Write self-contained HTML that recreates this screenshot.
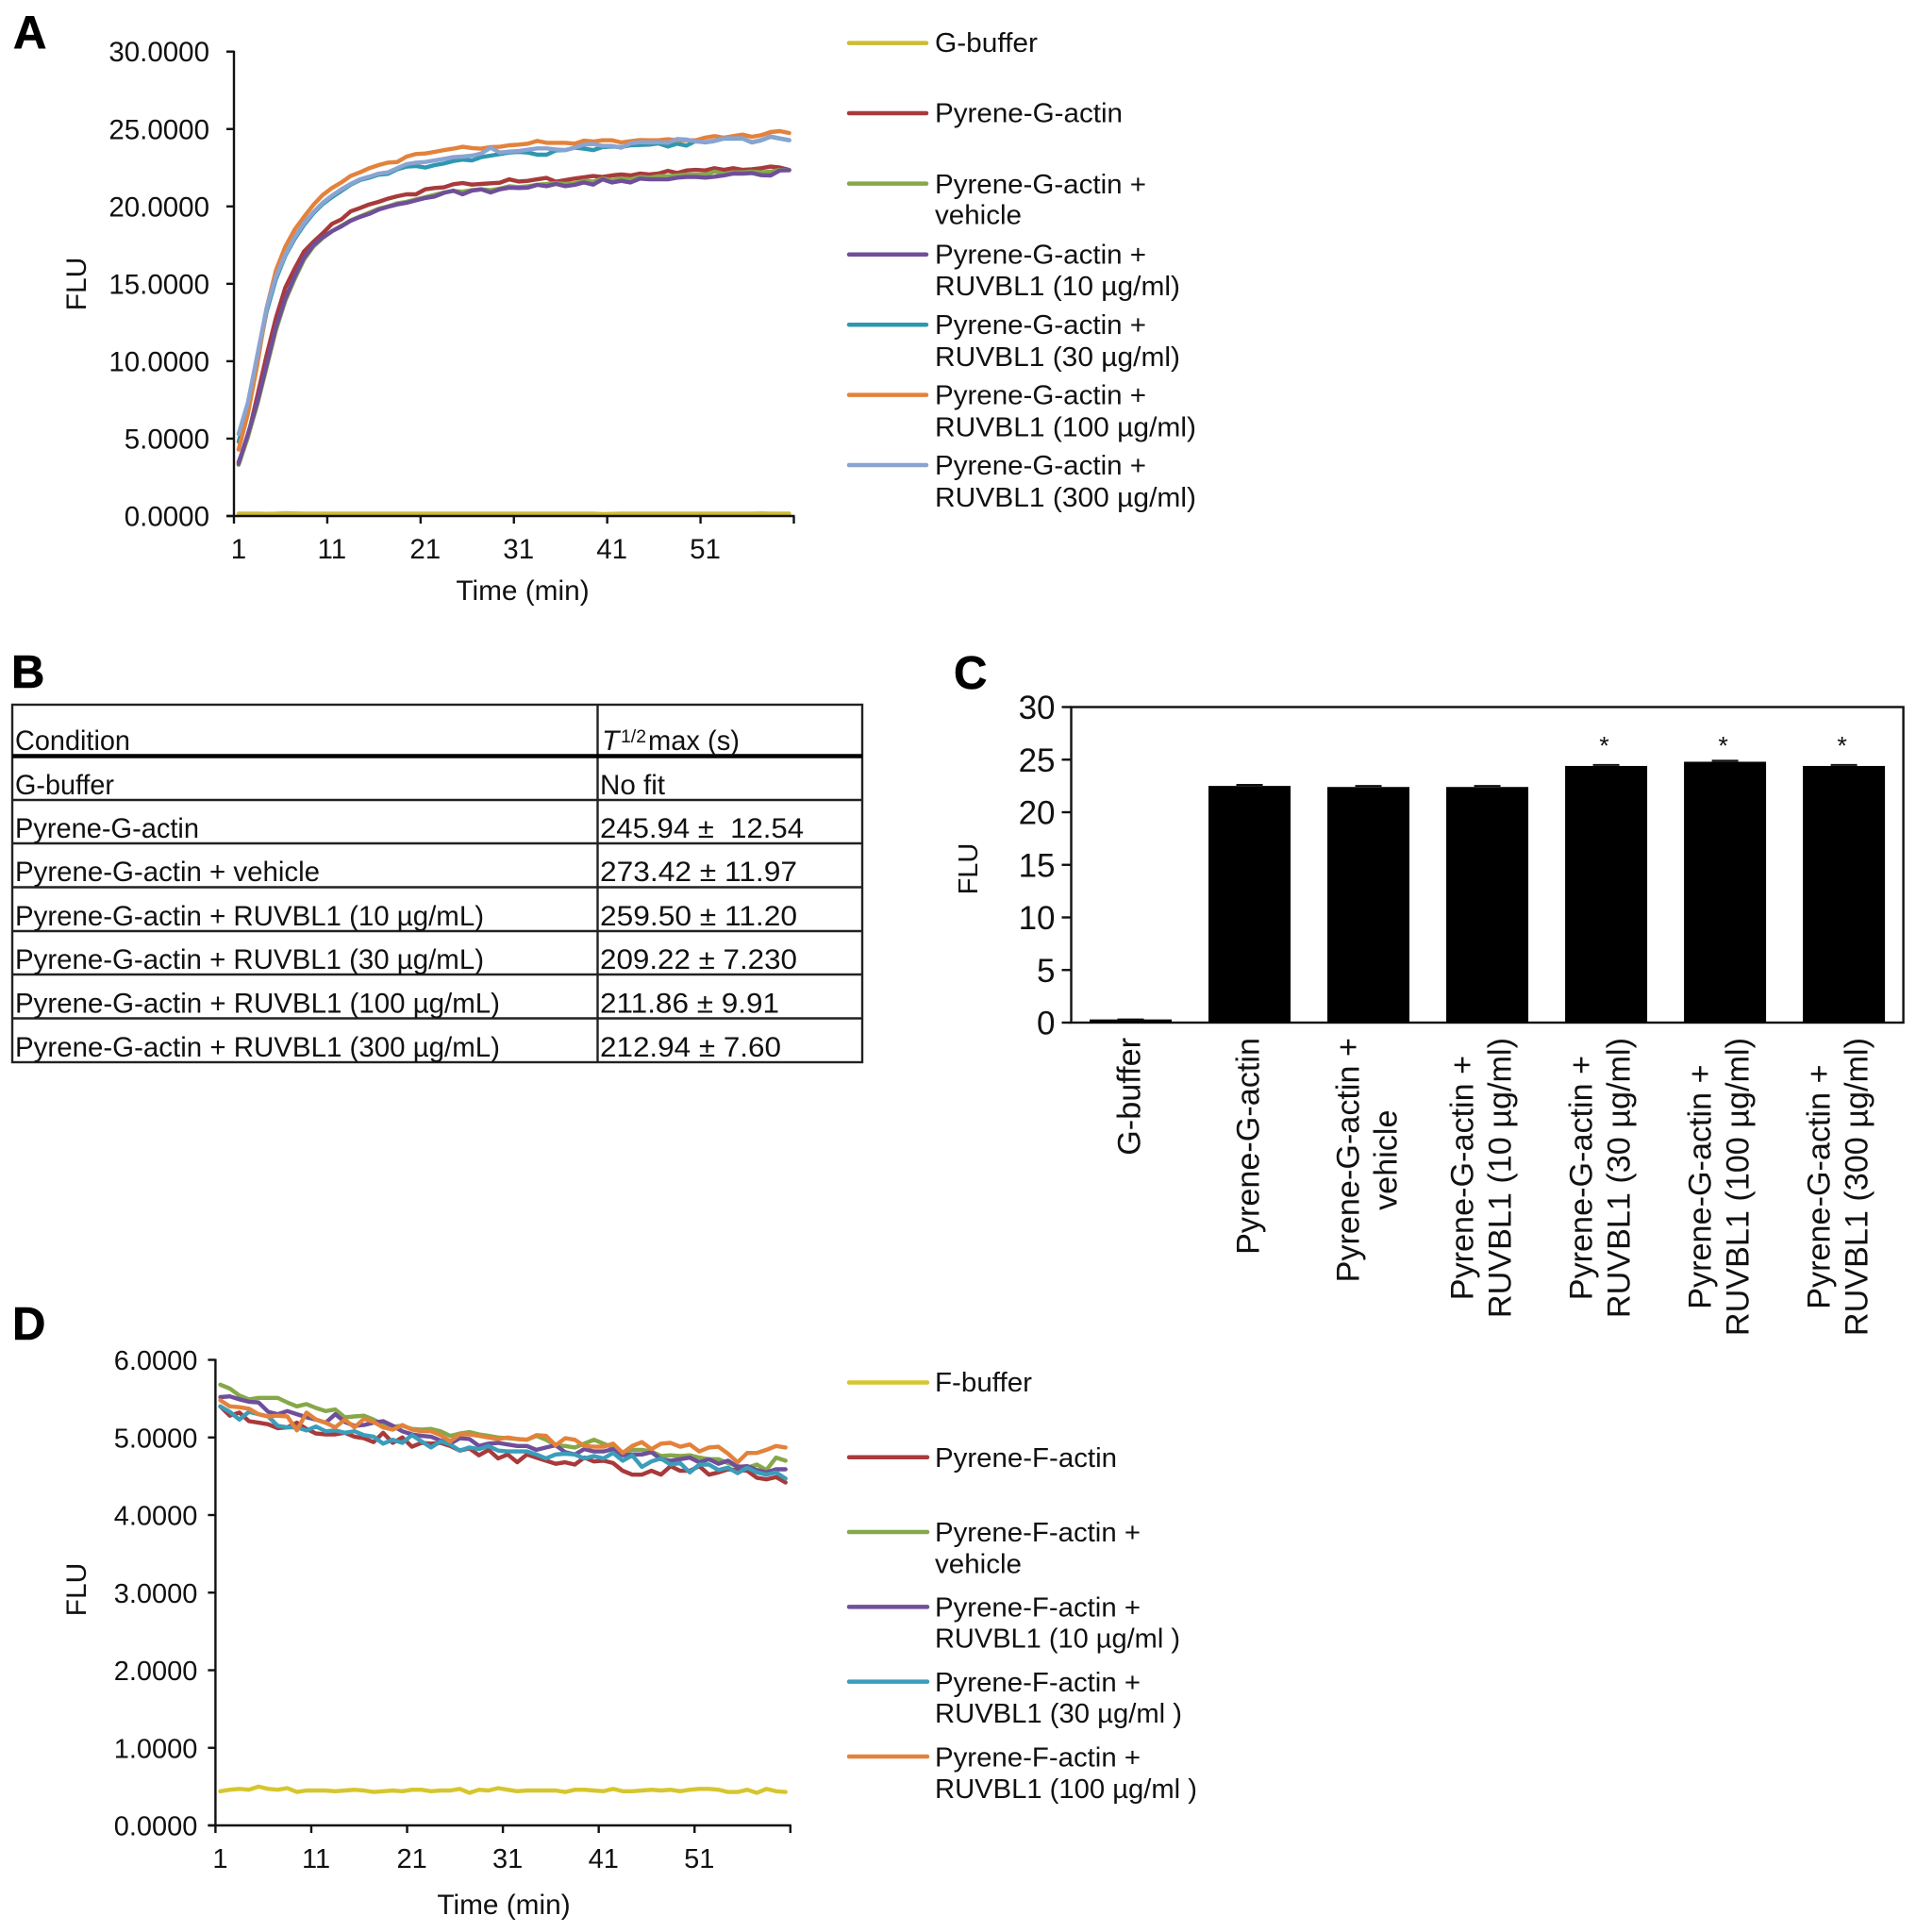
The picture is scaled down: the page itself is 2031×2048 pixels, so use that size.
<!DOCTYPE html>
<html lang="en">
<head>
<meta charset="utf-8">
<title>Pyrene actin polymerization figure</title>
<style>
html,body{margin:0;padding:0;background:#fff;}
#fig{display:block;width:2031px;height:2048px;background:#fff;}
text{font-family:"Liberation Sans",Arial,sans-serif;fill:#111;}
.leg{font-size:29px;}
.tbl{font-size:30px;}
.rule{stroke:#222;stroke-width:2.4;}
.lg{stroke-width:4.5;stroke-linecap:round;}
.letter{font-size:49px;font-weight:bold;fill:#000;stroke:#000;stroke-width:.6;}
</style>
</head>
<body>
<svg id="fig" xmlns="http://www.w3.org/2000/svg" width="2031" height="2048" viewBox="0 0 2031 2048">
  <text class="letter" x="14" y="51">A</text>
  <text class="letter" x="12" y="729">B</text>
  <text class="letter" x="1011" y="730">C</text>
  <text class="letter" x="13" y="1420">D</text>

  <g id="chartA"></g>
  <g id="chartC"></g>
  <g id="chartD"></g>

  <g>
    <line class="lg" x1="900" x2="982" y1="45.6" y2="45.6" stroke="#cdbb33"/>
    <text class="leg" x="991" y="55" textLength="109" lengthAdjust="spacingAndGlyphs">G-buffer</text>
    <line class="lg" x1="900" x2="982" y1="120" y2="120" stroke="#a83a3c"/>
    <text class="leg" x="991" y="129.5" textLength="199" lengthAdjust="spacingAndGlyphs">Pyrene-G-actin</text>
    <line class="lg" x1="900" x2="982" y1="194.6" y2="194.6" stroke="#86a84a"/>
    <text class="leg" x="991" y="205" textLength="224" lengthAdjust="spacingAndGlyphs">Pyrene-G-actin +</text>
    <text class="leg" x="991" y="237.5" textLength="92" lengthAdjust="spacingAndGlyphs">vehicle</text>
    <line class="lg" x1="900" x2="982" y1="269.8" y2="269.8" stroke="#6f4f9a"/>
    <text class="leg" x="991" y="279.6" textLength="224" lengthAdjust="spacingAndGlyphs">Pyrene-G-actin +</text>
    <text class="leg" x="991" y="312.8" textLength="260" lengthAdjust="spacingAndGlyphs">RUVBL1 (10 µg/ml)</text>
    <line class="lg" x1="900" x2="982" y1="344.2" y2="344.2" stroke="#2f97b1"/>
    <text class="leg" x="991" y="354" textLength="224" lengthAdjust="spacingAndGlyphs">Pyrene-G-actin +</text>
    <text class="leg" x="991" y="387.8" textLength="260" lengthAdjust="spacingAndGlyphs">RUVBL1 (30 µg/ml)</text>
    <line class="lg" x1="900" x2="982" y1="418.6" y2="418.6" stroke="#e3823b"/>
    <text class="leg" x="991" y="428.5" textLength="224" lengthAdjust="spacingAndGlyphs">Pyrene-G-actin +</text>
    <text class="leg" x="991" y="462.3" textLength="277" lengthAdjust="spacingAndGlyphs">RUVBL1 (100 µg/ml)</text>
    <line class="lg" x1="900" x2="982" y1="493" y2="493" stroke="#8aa4d2"/>
    <text class="leg" x="991" y="502.9" textLength="224" lengthAdjust="spacingAndGlyphs">Pyrene-G-actin +</text>
    <text class="leg" x="991" y="536.8" textLength="277" lengthAdjust="spacingAndGlyphs">RUVBL1 (300 µg/ml)</text>
  </g>

  <g>
    <line class="lg" x1="900" x2="983" y1="1465.5" y2="1465.5" stroke="#d6c62e"/>
    <text class="leg" x="991" y="1475" textLength="103" lengthAdjust="spacingAndGlyphs">F-buffer</text>
    <line class="lg" x1="900" x2="983" y1="1544.8" y2="1544.8" stroke="#a83a3c"/>
    <text class="leg" x="991" y="1555" textLength="193" lengthAdjust="spacingAndGlyphs">Pyrene-F-actin</text>
    <line class="lg" x1="900" x2="983" y1="1624" y2="1624" stroke="#86a84a"/>
    <text class="leg" x="991" y="1634" textLength="218" lengthAdjust="spacingAndGlyphs">Pyrene-F-actin +</text>
    <text class="leg" x="991" y="1667.4" textLength="92" lengthAdjust="spacingAndGlyphs">vehicle</text>
    <line class="lg" x1="900" x2="983" y1="1703.4" y2="1703.4" stroke="#6f4f9a"/>
    <text class="leg" x="991" y="1713.4" textLength="218" lengthAdjust="spacingAndGlyphs">Pyrene-F-actin +</text>
    <text class="leg" x="991" y="1746.7" textLength="260" lengthAdjust="spacingAndGlyphs">RUVBL1 (10 µg/ml )</text>
    <line class="lg" x1="900" x2="983" y1="1782.6" y2="1782.6" stroke="#3a9dba"/>
    <text class="leg" x="991" y="1792.8" textLength="218" lengthAdjust="spacingAndGlyphs">Pyrene-F-actin +</text>
    <text class="leg" x="991" y="1826" textLength="262" lengthAdjust="spacingAndGlyphs">RUVBL1 (30 µg/ml )</text>
    <line class="lg" x1="900" x2="983" y1="1862" y2="1862" stroke="#e3823b"/>
    <text class="leg" x="991" y="1872.4" textLength="218" lengthAdjust="spacingAndGlyphs">Pyrene-F-actin +</text>
    <text class="leg" x="991" y="1906.2" textLength="278" lengthAdjust="spacingAndGlyphs">RUVBL1 (100 µg/ml )</text>
  </g>

  <g>
    <rect x="13" y="747" width="901" height="379" fill="none" stroke="#222" stroke-width="2.4"/>
    <line class="rule" x1="633.5" x2="633.5" y1="747" y2="1126"/>
    <line x1="13" x2="914" y1="801.5" y2="801.5" stroke="#000" stroke-width="4.5"/>
    <line class="rule" x1="13" x2="914" y1="848" y2="848"/>
    <line class="rule" x1="13" x2="914" y1="894" y2="894"/>
    <line class="rule" x1="13" x2="914" y1="940.5" y2="940.5"/>
    <line class="rule" x1="13" x2="914" y1="987" y2="987"/>
    <line class="rule" x1="13" x2="914" y1="1033" y2="1033"/>
    <line class="rule" x1="13" x2="914" y1="1079.5" y2="1079.5"/>

    <text class="tbl" x="16" y="795" textLength="122" lengthAdjust="spacingAndGlyphs">Condition</text>
    <text class="tbl" x="638" y="795" font-style="italic">T</text>
    <text x="658" y="787" font-size="19" textLength="27" lengthAdjust="spacingAndGlyphs">1/2</text>
    <text class="tbl" x="687" y="795" textLength="97" lengthAdjust="spacingAndGlyphs">max (s)</text>

    <text class="tbl" x="16" y="842" textLength="105" lengthAdjust="spacingAndGlyphs">G-buffer</text>
    <text class="tbl" x="636" y="842" textLength="69" lengthAdjust="spacingAndGlyphs">No fit</text>
    <text class="tbl" x="16" y="888" textLength="195" lengthAdjust="spacingAndGlyphs">Pyrene-G-actin</text>
    <text class="tbl" x="636" y="888" textLength="216" lengthAdjust="spacingAndGlyphs">245.94 ±&#160;&#160;12.54</text>
    <text class="tbl" x="16" y="934" textLength="323" lengthAdjust="spacingAndGlyphs">Pyrene-G-actin + vehicle</text>
    <text class="tbl" x="636" y="934" textLength="209" lengthAdjust="spacingAndGlyphs">273.42 ± 11.97</text>
    <text class="tbl" x="16" y="981" textLength="497" lengthAdjust="spacingAndGlyphs">Pyrene-G-actin + RUVBL1 (10 µg/mL)</text>
    <text class="tbl" x="636" y="981" textLength="209" lengthAdjust="spacingAndGlyphs">259.50 ± 11.20</text>
    <text class="tbl" x="16" y="1027" textLength="497" lengthAdjust="spacingAndGlyphs">Pyrene-G-actin + RUVBL1 (30 µg/mL)</text>
    <text class="tbl" x="636" y="1027" textLength="209" lengthAdjust="spacingAndGlyphs">209.22 ± 7.230</text>
    <text class="tbl" x="16" y="1073.5" textLength="514" lengthAdjust="spacingAndGlyphs">Pyrene-G-actin + RUVBL1 (100 µg/mL)</text>
    <text class="tbl" x="636" y="1073.5" textLength="190" lengthAdjust="spacingAndGlyphs">211.86 ± 9.91</text>
    <text class="tbl" x="16" y="1120" textLength="514" lengthAdjust="spacingAndGlyphs">Pyrene-G-actin + RUVBL1 (300 µg/mL)</text>
    <text class="tbl" x="636" y="1120" textLength="192" lengthAdjust="spacingAndGlyphs">212.94 ± 7.60</text>
  </g>
</svg>

<script>
// ---------- Panel A data ----------
const aXTicks = [1, 11, 21, 31, 41, 51];
const aYTicks = [0, 5, 10, 15, 20, 25, 30];
const aBuffer = [.15,.15,.15,.14,.15,.18,.17,.16,.15,.15,.16,.15,.15,.15,.15,.16,.15,.15,.15,.15,.16,.15,.15,.15,.15,.15,.16,.15,.15,.15,.15,.15,.16,.15,.15,.15,.15,.15,.15,.13,.14,.15,.15,.15,.15,.15,.15,.15,.15,.15,.15,.15,.15,.15,.15,.15,.17,.16,.15,.15];
const aActin = [3.48,5.1,7.74,10.38,12.8,14.75,15.97,17.08,17.7,18.26,18.87,19.16,19.68,19.89,20.13,20.29,20.5,20.66,20.78,20.78,21.1,21.19,21.23,21.43,21.51,21.41,21.45,21.49,21.53,21.75,21.61,21.65,21.75,21.84,21.59,21.7,21.8,21.88,21.96,21.9,22.0,22.06,22.0,22.12,22.06,22.12,22.3,22.16,22.32,22.36,22.32,22.47,22.36,22.47,22.36,22.4,22.47,22.57,22.51,22.36];
const aVehicle = [3.3,5.1,7.2,9.6,12.0,13.9,15.3,16.55,17.4,17.95,18.4,18.75,19.1,19.35,19.6,19.85,20.0,20.2,20.3,20.45,20.6,20.75,20.9,21.0,20.95,21.05,21.1,21.05,21.15,21.3,21.25,21.3,21.4,21.45,21.5,21.45,21.5,21.65,21.6,21.8,21.7,21.8,21.75,21.9,21.85,21.95,21.95,22.0,22.05,22.05,22.05,22.25,22.1,22.2,22.2,22.25,22.2,22.25,22.35,22.34];
const aRuvbl10 = [3.38,5.3,7.34,9.77,12.2,14.04,15.46,16.68,17.49,18.0,18.4,18.71,19.07,19.32,19.52,19.79,19.97,20.13,20.23,20.39,20.54,20.64,20.88,21.02,20.78,21.02,21.1,20.9,21.1,21.21,21.19,21.21,21.39,21.31,21.45,21.31,21.39,21.55,21.41,21.75,21.55,21.65,21.55,21.8,21.75,21.75,21.75,21.86,21.9,21.9,21.86,21.92,22.0,22.12,22.12,22.16,22.02,22.0,22.32,22.34];
const aRuvbl30 = [4.8,6.9,10.1,13.2,15.3,16.8,17.9,18.8,19.55,20.15,20.6,21.0,21.4,21.7,21.85,22.05,22.1,22.4,22.57,22.61,22.51,22.67,22.77,22.93,23.02,22.97,23.18,23.28,23.38,23.48,23.52,23.48,23.34,23.34,23.62,23.64,23.79,23.73,23.64,23.83,23.87,23.83,23.95,23.97,23.99,24.07,23.87,24.05,23.93,24.23,24.13,24.23,24.38,24.38,24.38,24.13,24.27,24.5,24.38,24.27];
const aRuvbl100 = [4.29,6.62,9.77,13.43,15.87,17.39,18.5,19.32,20.09,20.74,21.19,21.55,21.96,22.2,22.47,22.67,22.83,22.87,23.22,23.38,23.42,23.52,23.64,23.73,23.85,23.77,23.73,23.83,23.85,23.95,23.99,24.05,24.23,24.11,24.11,24.11,24.05,24.25,24.19,24.27,24.27,24.13,24.21,24.29,24.27,24.27,24.34,24.27,24.27,24.27,24.44,24.54,24.44,24.54,24.64,24.5,24.6,24.8,24.86,24.74];
const aRuvbl300 = [5.3,7.34,10.38,13.43,15.46,16.88,18.0,18.91,19.62,20.23,20.7,21.1,21.45,21.75,21.92,22.12,22.2,22.47,22.73,22.83,22.87,22.97,23.07,23.18,23.22,23.28,23.42,23.79,23.48,23.54,23.58,23.66,23.75,23.75,23.68,23.64,23.79,23.99,24.03,23.91,23.91,23.79,24.07,24.15,24.13,24.15,24.11,24.36,24.32,24.19,24.15,24.25,24.4,24.4,24.4,24.15,24.29,24.52,24.4,24.29];

// ---------- Panel C data ----------
const cCategories = ['G-buffer','Pyrene-G-actin','Pyrene-G-actin +|vehicle','Pyrene-G-actin +|RUVBL1 (10 µg/ml)','Pyrene-G-actin +|RUVBL1 (30 µg/ml)','Pyrene-G-actin +|RUVBL1 (100 µg/ml)','Pyrene-G-actin +|RUVBL1 (300 µg/ml)'];
const cValues = [0.3, 22.5, 22.4, 22.4, 24.4, 24.8, 24.4];
const cErrors = [0, 0.1, 0.1, 0.1, 0.1, 0.1, 0.1];
const cStars = ['', '', '', '', '*', '*', '*'];
const cStarLevel = 25.5;
const cYTicks = [0, 5, 10, 15, 20, 25, 30];

// ---------- Panel D data ----------
const dXTicks = [1, 11, 21, 31, 41, 51];
const dYTicks = [0, 1, 2, 3, 4, 5, 6];
const dBuffer = [.44,.46,.47,.46,.50,.47,.46,.48,.43,.45,.45,.45,.44,.45,.46,.45,.43,.44,.45,.44,.46,.46,.44,.45,.45,.47,.42,.46,.45,.48,.46,.44,.45,.45,.45,.45,.43,.46,.46,.45,.44,.47,.44,.44,.45,.46,.45,.46,.44,.46,.47,.47,.46,.43,.43,.46,.42,.47,.44,.43];
const dActin = [5.40,5.28,5.32,5.21,5.19,5.17,5.12,5.13,5.19,5.11,5.05,5.04,5.04,5.06,5.01,4.99,4.94,5.06,4.93,5.00,4.88,4.93,4.92,4.93,4.89,4.83,4.86,4.77,4.84,4.73,4.78,4.68,4.78,4.74,4.70,4.66,4.68,4.65,4.74,4.69,4.70,4.67,4.57,4.52,4.52,4.57,4.52,4.63,4.57,4.57,4.63,4.52,4.55,4.59,4.58,4.57,4.48,4.46,4.49,4.42];
const dVehicle = [5.68,5.63,5.54,5.49,5.51,5.51,5.51,5.45,5.40,5.43,5.38,5.34,5.36,5.26,5.27,5.28,5.23,5.17,5.14,5.15,5.11,5.10,5.11,5.08,5.02,5.05,5.07,5.04,5.02,5.00,4.99,4.98,4.97,5.02,4.97,4.90,4.89,4.87,4.92,4.97,4.92,4.87,4.81,4.84,4.84,4.82,4.76,4.77,4.76,4.77,4.74,4.72,4.72,4.67,4.63,4.61,4.65,4.58,4.74,4.70];
const dRuvbl10 = [5.52,5.53,5.49,5.46,5.45,5.33,5.30,5.34,5.30,5.26,5.23,5.19,5.30,5.20,5.15,5.16,5.19,5.21,5.15,5.08,5.04,5.02,5.01,4.96,4.92,4.99,4.98,4.89,4.92,4.93,4.91,4.89,4.89,4.84,4.87,4.90,4.81,4.78,4.85,4.82,4.82,4.85,4.77,4.78,4.78,4.81,4.72,4.70,4.72,4.74,4.68,4.72,4.66,4.70,4.62,4.63,4.58,4.55,4.59,4.59];
const dRuvbl30 = [5.40,5.33,5.23,5.33,5.30,5.27,5.15,5.13,5.13,5.09,5.14,5.08,5.09,5.06,5.08,5.03,5.01,4.92,4.97,4.93,5.03,4.95,4.87,4.95,4.91,4.83,4.87,4.85,4.89,4.83,4.82,4.82,4.82,4.78,4.73,4.78,4.79,4.78,4.73,4.76,4.73,4.80,4.70,4.77,4.62,4.69,4.73,4.65,4.67,4.55,4.65,4.65,4.58,4.61,4.54,4.61,4.55,4.52,4.55,4.47];
const dRuvbl100 = [5.48,5.40,5.39,5.37,5.30,5.27,5.28,5.27,5.09,5.32,5.23,5.19,5.13,5.23,5.13,5.24,5.20,5.13,5.10,5.16,5.10,5.08,5.08,5.03,4.95,5.04,5.04,5.02,5.00,4.98,5.00,4.98,4.97,5.03,5.02,4.90,4.99,4.97,4.89,4.88,4.88,4.92,4.80,4.89,4.94,4.85,4.92,4.93,4.88,4.91,4.82,4.87,4.88,4.79,4.68,4.80,4.80,4.84,4.89,4.87];

const NS = 'http://www.w3.org/2000/svg';

function line(parent, name, x1, y1, x2, y2, width) {
  const el = document.createElementNS(NS, 'line');
  
  
  el.setAttribute('x1', x1);
  el.setAttribute('y1', y1);
  el.setAttribute('x2', x2);
  el.setAttribute('y2', y2);
  el.setAttribute('stroke', '#111');
  el.setAttribute('stroke-width', width);
  parent.appendChild(el);
  return el;
}

function label(parent, name, str, x, y, size, anchor, rotate) {
  const el = document.createElementNS(NS, 'text');
  
  
  el.setAttribute('x', x);
  el.setAttribute('y', y);
  el.setAttribute('font-size', size);
  el.setAttribute('text-anchor', anchor);
  if (rotate) el.setAttribute('transform', 'rotate(-90 ' + x + ' ' + y + ')');
  el.textContent = str;
  parent.appendChild(el);
  return el;
}

function series(parent, name, values, color, xFn, yFn) {
  const el = document.createElementNS(NS, 'polyline');
  
  
  el.setAttribute('points', values.map(function (v, i) { return xFn(i).toFixed(1) + ',' + yFn(v).toFixed(1); }).join(' '));
  el.setAttribute('fill', 'none');
  el.setAttribute('stroke', color);
  el.setAttribute('stroke-width', '4.4');
  el.setAttribute('stroke-linejoin', 'round');
  el.setAttribute('stroke-linecap', 'round');
  parent.appendChild(el);
}

function lineChart(parent, box, yMax, yTicks, xTicks, list, layout) {
  const count = list[0].values.length;
  const step = (box.right - box.left) / count;
  const bx = function (i) { return box.left + step * i; };
  const xFn = function (i) { return bx(i) + step / 2; };
  const yFn = function (v) { return box.bottom - (v / yMax) * (box.bottom - box.top); };
  list.forEach(function (s) { series(parent, s.name, s.values, s.color, xFn, yFn); });
  line(parent, 'y-axis', box.left, box.top - 1, box.left, box.bottom + 1, 2.4);
  line(parent, 'x-axis', box.left - 8, box.bottom, box.right + 1, box.bottom, 2.4);
  yTicks.forEach(function (t) {
    line(parent, 'y-tick', box.left - 8, yFn(t), box.left, yFn(t), 2.4);
    label(parent, 'y-tick-label', t.toFixed(4), box.left - layout.labelGap, yFn(t) + 10.5, layout.tickFont, 'end');
  });
  xTicks.forEach(function (t) {
    line(parent, 'x-tick', bx(t - 1), box.bottom, bx(t - 1), box.bottom + 8, 2.4);
    label(parent, 'x-tick-label', String(t), xFn(t - 1), box.bottom + layout.xLabelDy, layout.tickFont, 'middle');
  });
  line(parent, 'x-tick', box.right, box.bottom, box.right, box.bottom + 8, 2.4);
  label(parent, 'x-axis-title', 'Time (min)', layout.titleX, layout.titleY, 29.8, 'middle');
  label(parent, 'y-axis-title', 'FLU', layout.fluX, layout.fluY, 30, 'middle', true);
}

lineChart(document.getElementById('chartA'),
  { left: 248, right: 841.5, top: 54.7, bottom: 547 }, 30, aYTicks, aXTicks,
  [
    { name: 'series-g-buffer', values: aBuffer, color: '#cdbb33' },
    { name: 'series-actin', values: aActin, color: '#a83a3c' },
    { name: 'series-vehicle', values: aVehicle, color: '#86a84a' },
    { name: 'series-ruvbl1-10', values: aRuvbl10, color: '#6f4f9a' },
    { name: 'series-ruvbl1-30', values: aRuvbl30, color: '#2f97b1' },
    { name: 'series-ruvbl1-100', values: aRuvbl100, color: '#e3823b' },
    { name: 'series-ruvbl1-300', values: aRuvbl300, color: '#8aa4d2' }
  ],
  { xLabelDy: 45, titleX: 554, titleY: 636, fluX: 91, fluY: 301, labelGap: 26, tickFont: 29.5 });

lineChart(document.getElementById('chartD'),
  { left: 228.4, right: 837.8, top: 1441.5, bottom: 1935 }, 6, dYTicks, dXTicks,
  [
    { name: 'series-f-buffer', values: dBuffer, color: '#d6c62e' },
    { name: 'series-f-actin', values: dActin, color: '#a83a3c' },
    { name: 'series-f-vehicle', values: dVehicle, color: '#86a84a' },
    { name: 'series-f-ruvbl1-10', values: dRuvbl10, color: '#6f4f9a' },
    { name: 'series-f-ruvbl1-30', values: dRuvbl30, color: '#3a9dba' },
    { name: 'series-f-ruvbl1-100', values: dRuvbl100, color: '#e3823b' }
  ],
  { xLabelDy: 45, titleX: 534, titleY: 2029, fluX: 91, fluY: 1685, labelGap: 19, tickFont: 29 });

(function drawBars() {
  const g = document.getElementById('chartC');
  const box = { left: 1135.5, right: 2017.6, top: 749.5, bottom: 1084 };
  const band = (box.right - box.left) / cValues.length;
  const xCenter = function (i) { return box.left + band * (i + 0.5); };
  const yFn = function (v) { return box.bottom - (v / 30) * (box.bottom - box.top); };
  const barWidth = 87;
  const frame = document.createElementNS(NS, 'rect');
  
  
  frame.setAttribute('x', box.left);
  frame.setAttribute('y', box.top);
  frame.setAttribute('width', box.right - box.left);
  frame.setAttribute('height', box.bottom - box.top);
  frame.setAttribute('fill', 'none');
  frame.setAttribute('stroke', '#111');
  frame.setAttribute('stroke-width', '2.4');
  g.appendChild(frame);
  cValues.forEach(function (v, i) {
    const bar = document.createElementNS(NS, 'rect');
    
    
    bar.setAttribute('x', xCenter(i) - barWidth / 2);
    bar.setAttribute('y', yFn(v));
    bar.setAttribute('width', barWidth);
    bar.setAttribute('height', box.bottom - yFn(v));
    bar.setAttribute('fill', '#000');
    g.appendChild(bar);
    line(g, 'error-bar', xCenter(i) - 14, yFn(v + cErrors[i]), xCenter(i) + 14, yFn(v + cErrors[i]), 2);
    if (cStars[i]) {
      label(g, 'significance-star', cStars[i], xCenter(i) - 2, yFn(cStarLevel), 27, 'middle');
    }
    const parts = cCategories[i].split('|');
    const offset = parts.length > 1 && parts[1].indexOf('RUVBL1') === 0 ? -5 : 0;
    const els = parts.map(function (p, k) {
      const lx = xCenter(i) + (k - (parts.length - 1) / 2) * 40 + 10 + offset;
      return { el: label(g, 'category-label', p, lx, 0, 34.2, 'middle'), x: lx };
    });
    const widest = Math.max.apply(null, els.map(function (o) { return o.el.getComputedTextLength(); }));
    const yMid = 1100 + widest / 2;
    els.forEach(function (o) {
      o.el.setAttribute('y', yMid);
      o.el.setAttribute('transform', 'rotate(-90 ' + o.x + ' ' + yMid + ')');
    });
  });
  cYTicks.forEach(function (t) {
    line(g, 'y-tick', box.left - 10, yFn(t), box.left, yFn(t), 2.4);
    label(g, 'y-tick-label', String(t), box.left - 17, yFn(t) + 12.5, 35, 'end');
  });
  label(g, 'y-axis-title', 'FLU', 1036, 921, 29, 'middle', true);
})();
</script>
</body>
</html>
